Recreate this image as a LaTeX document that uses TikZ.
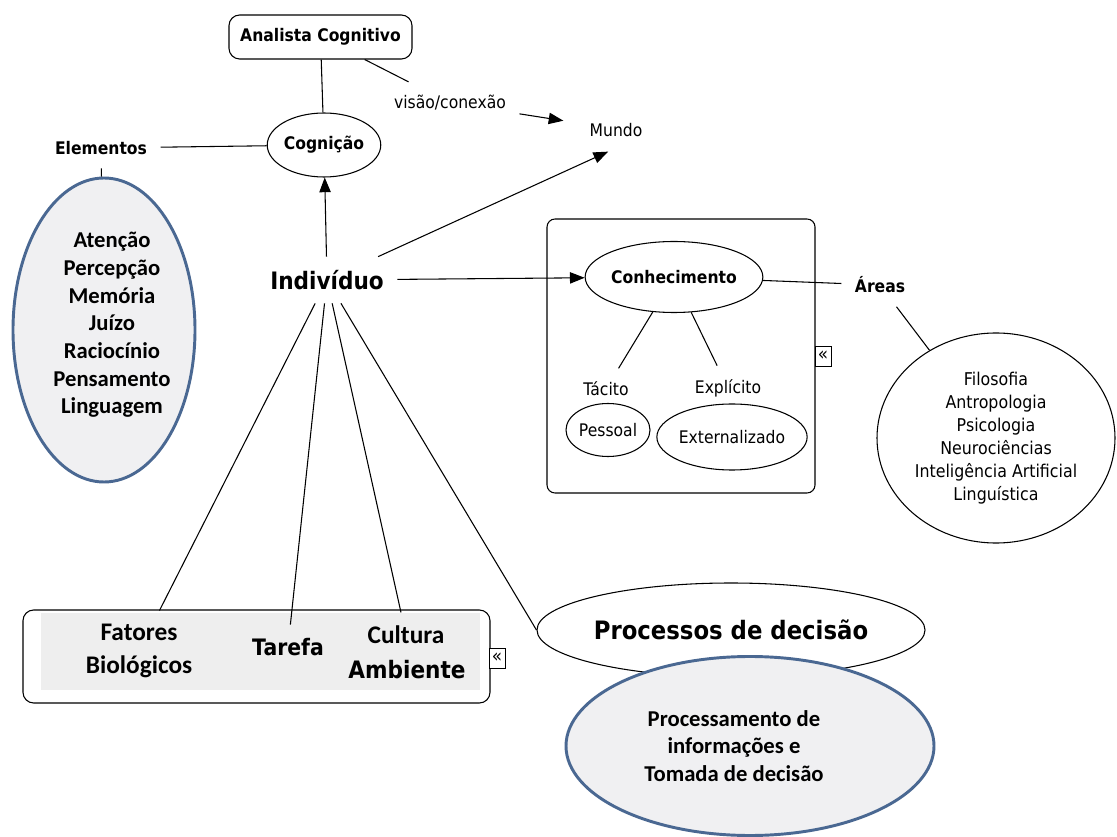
\documentclass[tikz,border=0pt]{standalone}
\usepackage{fontspec}
\setmainfont{DejaVu Sans}[FakeStretch=0.9]
\newfontfamily\carl{Carlito}
\usetikzlibrary{shapes.geometric,arrows.meta}
\definecolor{bluebd}{RGB}{74,104,146}
\definecolor{fillg}{RGB}{240,240,242}
\definecolor{panel}{RGB}{238,238,238}
\newcommand\fsz[2]{\fontsize{#1}{#2}\selectfont}
\begin{document}
\begin{tikzpicture}[x=0.75pt,y=-0.75pt,
  conc/.style={font=\bfseries\fsz{13}{15.6}, inner sep=10pt},
  txtlab/.style={font=\fsz{13}{15.6}, inner sep=10pt},
  ell/.style={draw, ellipse, line width=0.8pt, inner sep=0pt},
  conn/.style={line width=0.8pt},
  arr/.style={line width=0.8pt, -{Triangle[length=11pt,width=8.5pt]}},
  blueell/.style={ellipse, draw=bluebd, line width=2.2pt, fill=fillg, inner sep=0pt},
  tabbox/.style={draw, line width=0.7pt, minimum width=12pt, minimum height=15pt, inner sep=0pt, fill=white, font=\fsz{14}{14}}
]
\useasboundingbox (0,0) rectangle (1117,837);
\fill[white] (0,0) rectangle (1117,837);

% top
\node[draw, rounded corners=8pt, line width=0.8pt, minimum width=183*0.75pt, minimum height=44*0.75pt, font=\bfseries\fsz{13}{15.6}] (ana) at (320.5,37) {Analista Cognitivo};
\node[ell, minimum width=106*0.75pt, minimum height=64*0.75pt, font=\bfseries\fsz{13}{15.6}] (cog) at (324,145) {Cognição};
\node[conc] (elem) at (101,148) {Elementos};
\node[txtlab] (vis) at (450,103) {visão/conexão};
\node[txtlab, inner xsep=19.5pt, inner ysep=11pt] (mundo) at (616,130) {Mundo};

% elements ellipse
\node[blueell, minimum width=182*0.75pt, minimum height=304*0.75pt] (elist) at (104,330) {};
\node[align=center, font=\carl\bfseries\fsz{17}{20.75}] (elisttxt) at (112,325) {Atenção\\Percepção\\Memória\\Juízo\\Raciocínio\\Pensamento\\Linguagem};

% individual
\node[conc, font=\bfseries\fsz{18}{21}] (ind) at (327,280) {Indivíduo};

% knowledge
\node[draw, rounded corners=6pt, line width=0.8pt, minimum width=268*0.75pt, minimum height=274*0.75pt] (kbox) at (681,356) {};
\node[tabbox] (ktab) at (823,356) {«};
\node[ell, minimum width=151*0.75pt, minimum height=71*0.75pt, font=\bfseries\fsz{13}{15.6}] (con) at (674,277) {Conhecimento};
\node[conc] (areas) at (880,285) {Áreas};
\node[txtlab] (tac) at (606,389) {Tácito};
\node[txtlab] (exp) at (728,388) {Explícito};
\node[ell, minimum width=84*0.75pt, minimum height=53*0.75pt, font=\fsz{13}{15.6}] (pes) at (608,430) {Pessoal};
\node[ell, minimum width=132*0.75pt, minimum height=66*0.75pt, font=\fsz{13}{15.6}] (ext) at (732,437) {Externalizado};
\node[ell, minimum width=238*0.75pt, minimum height=210*0.75pt, align=center, font=\fsz{13.2}{17.25}] (circ) at (996,438) {Filosofia\\Antropologia\\Psicologia\\Neurociências\\Inteligência Artificial\\Linguística};

% bottom box
\node[draw, rounded corners=8pt, line width=0.8pt, minimum width=467*0.75pt, minimum height=93*0.75pt] (bbox) at (256.5,656.5) {};
\node[fill=panel, minimum width=439*0.75pt, minimum height=77*0.75pt, inner sep=0pt] (bpanel) at (260.5,651.5) {};
\node[tabbox] (btab) at (497,658) {«};
\node[conc, align=center, font=\carl\bfseries\fsz{19}{24.75}] (fat) at (139,651) {Fatores\\Biológicos};
\node[conc, font=\bfseries\fsz{17}{20}] (tar) at (288,647) {Tarefa};
\node[conc, font=\carl\bfseries\fsz{19}{22}] (cul) at (406,635) {Cultura};
\node[conc, font=\bfseries\fsz{18}{21}] (amb) at (407,670) {Ambiente};

% decision
\node[ell, fill=white, minimum width=283*0.75pt, minimum height=94*0.75pt, font=\bfseries\fsz{19}{22}] (proc) at (731,630) {Processos de decisão};
\node[blueell, minimum width=368*0.75pt, minimum height=179*0.75pt] (pell) at (750,746) {};
\node[align=center, font=\carl\bfseries\fsz{17}{20.6}] (ptxt) at (734,746) {Processamento de\\informações e\\Tomada de decisão};

% connectors
\draw[conn] (ana) -- (cog);
\draw[conn] (ana) -- (vis);
\draw[arr] (vis) -- (mundo.170);
\draw[conn] (elem) -- (cog);
\draw[conn] (elem) -- (elist);
\draw[arr] (ind) -- (cog);
\draw[arr] (ind) -- (mundo.250);
\draw[arr] (ind) -- (con);
\draw[conn] (con) -- (areas);
\draw[conn] (areas) -- (circ);
\draw[conn] (con) -- (tac);
\draw[conn] (con) -- (exp);
\draw[conn] (ind) -- (fat);
\draw[conn] (ind) -- (tar);
\draw[conn] (ind) -- (cul);
\draw[conn] (ind) -- (proc.west);
\end{tikzpicture}
\end{document}
